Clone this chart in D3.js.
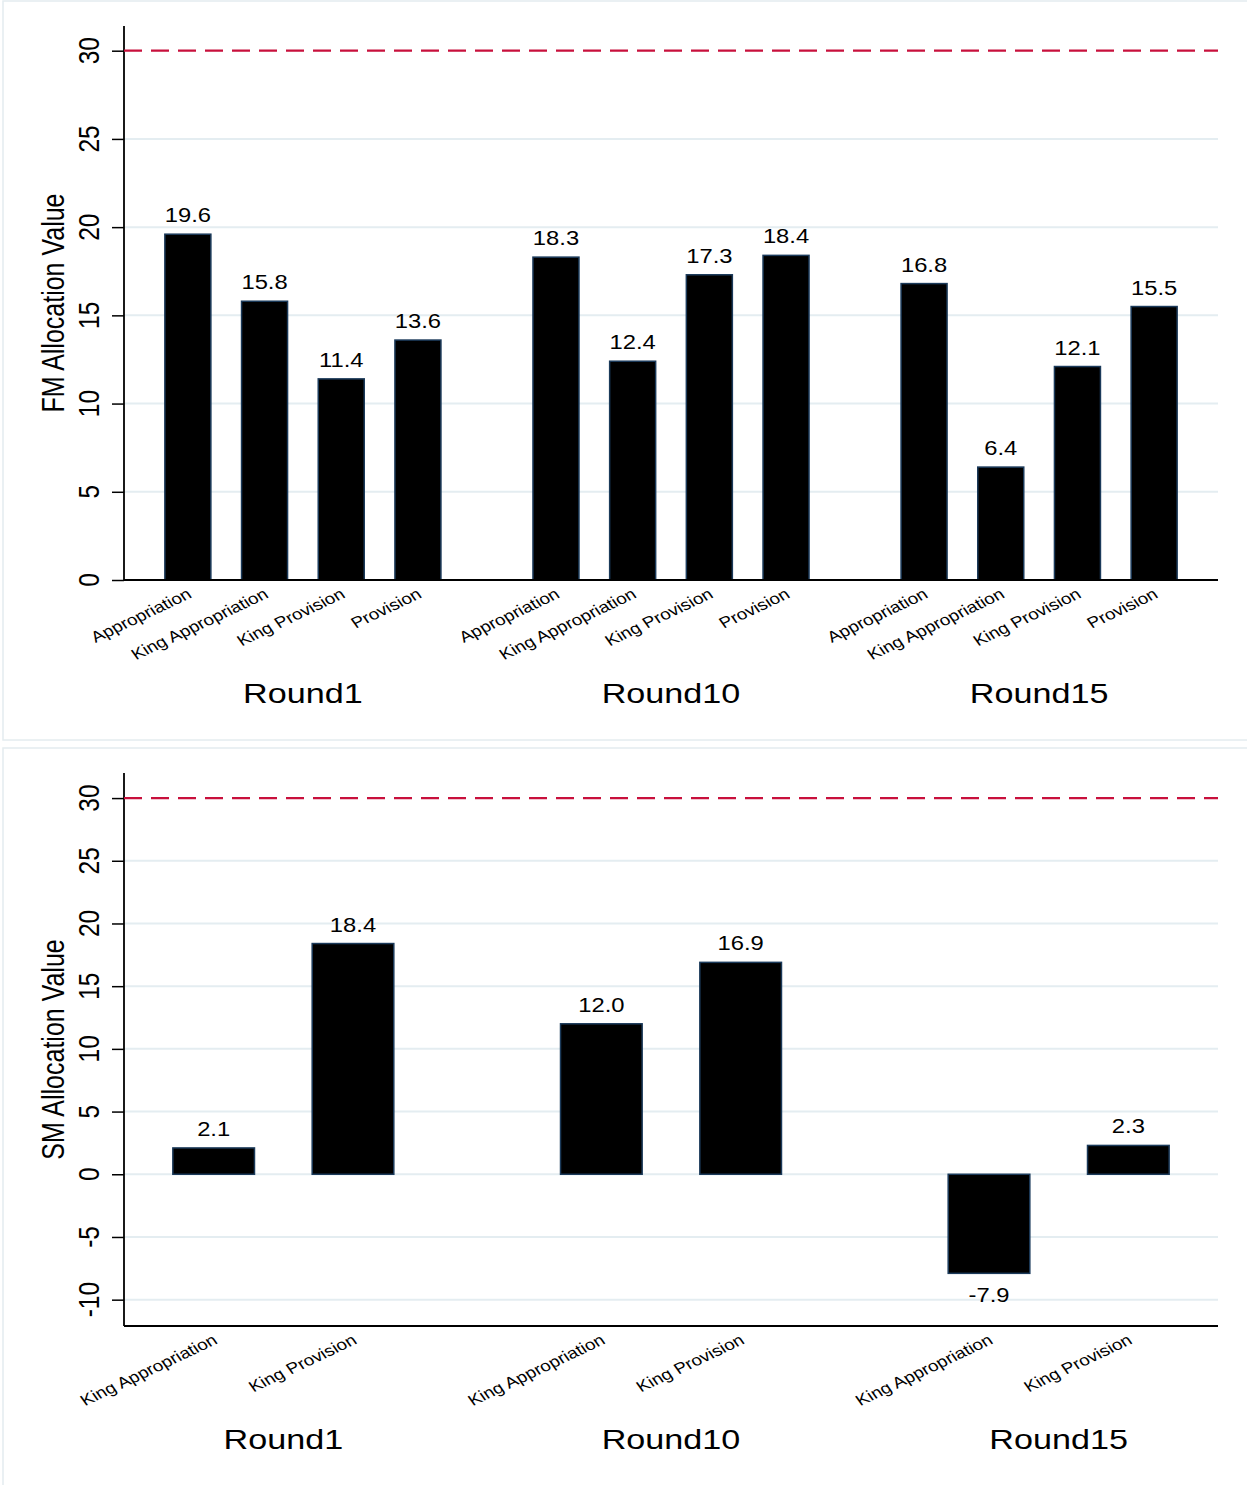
<!DOCTYPE html>
<html>
<head>
<meta charset="utf-8">
<script src="https://cdn.jsdelivr.net/npm/d3@7"></script>
<style>
  body { margin: 0; background: #fff; }
  text { font-family: "Liberation Sans", Arial, Helvetica, sans-serif; fill: #000; }
</style>
</head>
<body>
<div id="chart"></div>
<script>
const rounds = ["Round1", "Round10", "Round15"];

const fmCategories = ["Appropriation", "King Appropriation", "King Provision", "Provision"];
const fmRound1 = [19.6, 15.8, 11.4, 13.6];
const fmRound10 = [18.3, 12.4, 17.3, 18.4];
const fmRound15 = [16.8, 6.4, 12.1, 15.5];

const smCategories = ["King Appropriation", "King Provision"];
const smRound1 = [2.1, 18.4];
const smRound10 = [12.0, 16.9];
const smRound15 = [-7.9, 2.3];

const fmTicks = [0, 5, 10, 15, 20, 25, 30];
const smTicks = [-10, -5, 0, 5, 10, 15, 20, 25, 30];
const refLine = 30;

// the reference picture is stretched sideways, so text gets a small x-scale
const sx = 1.22;

// plain hyphen for negatives, like the original
const locale = d3.formatLocale({ decimal: ".", thousands: ",", grouping: [3], currency: ["", ""], minus: "-" });
const fmtTick = locale.format("d");
const fmtValue = locale.format(".1f");

const svg = d3.select("#chart").append("svg")
    .attr("width", 1247)
    .attr("height", 1485);

function stretchedText(g, x, y, angle, str) {
    return g.append("text")
        .attr("transform", `translate(${x},${y}) scale(${sx},1) rotate(${angle})`)
        .text(str);
}

function drawPanel(cfg) {
    const g = svg.append("g");

    // panel frame
    g.append("rect")
        .attr("x", cfg.frame[0]).attr("y", cfg.frame[1])
        .attr("width", cfg.frame[2]).attr("height", cfg.frame[3])
        .attr("fill", "none")
        .attr("stroke", "#e4ecef")
        .attr("stroke-width", 1.5);

    const y = d3.scaleLinear().domain(cfg.yDomain).range([cfg.bottom, cfg.top]);

    const x0 = d3.scaleBand()
        .domain(rounds)
        .range([cfg.left, cfg.right])
        .paddingInner(cfg.groupPadInner)
        .paddingOuter(cfg.groupPadOuter);

    const x1 = d3.scaleBand()
        .domain(cfg.categories)
        .range([0, x0.bandwidth()])
        .paddingInner(cfg.barPad)
        .paddingOuter(0);

    // gridlines
    g.append("g")
        .selectAll("line")
        .data(cfg.ticks.filter(t => t !== refLine))
        .join("line")
        .attr("x1", cfg.left).attr("x2", cfg.right)
        .attr("y1", d => y(d)).attr("y2", d => y(d))
        .attr("stroke", "#e4edf1")
        .attr("stroke-width", 2);

    // y axis
    const yAxis = g.append("g")
        .attr("transform", `translate(${cfg.left},0)`)
        .call(d3.axisLeft(y).tickValues(cfg.ticks).tickSize(12).tickFormat(""));
    yAxis.select(".domain").remove();
    yAxis.selectAll(".tick line").attr("stroke", "#000").attr("stroke-width", 1.5);

    g.append("line")
        .attr("x1", cfg.left).attr("x2", cfg.left)
        .attr("y1", cfg.top).attr("y2", cfg.bottom)
        .attr("stroke", "#000").attr("stroke-width", 1.8);

    cfg.ticks.forEach(t => {
        stretchedText(g, 99, y(t), -90, fmtTick(t))
            .attr("text-anchor", "middle")
            .style("font-size", "24.5px");
    });

    stretchedText(g, 64, (cfg.top + cfg.bottom) / 2, -90, cfg.yTitle)
        .attr("text-anchor", "middle")
        .style("font-size", "25px");

    // reference line
    g.append("line")
        .attr("x1", cfg.left).attr("x2", cfg.right)
        .attr("y1", y(refLine)).attr("y2", y(refLine))
        .attr("stroke", "#c8103c")
        .attr("stroke-width", 2.2)
        .attr("stroke-dasharray", "18,9");

    // bars
    const bars = [];
    rounds.forEach((r, i) => {
        cfg.values[i].forEach((v, j) => {
            bars.push({ round: r, cat: cfg.categories[j], value: v });
        });
    });

    g.append("g")
        .selectAll("rect")
        .data(bars)
        .join("rect")
        .attr("x", d => x0(d.round) + x1(d.cat))
        .attr("width", x1.bandwidth())
        .attr("y", d => y(Math.max(0, d.value)))
        .attr("height", d => Math.abs(y(d.value) - y(0)))
        .attr("fill", "#000")
        .attr("stroke", "#1b3a5a")
        .attr("stroke-width", 1.5);

    // value labels
    bars.forEach(d => {
        const cx = x0(d.round) + x1(d.cat) + x1.bandwidth() / 2;
        const ly = d.value >= 0 ? y(d.value) - 12 : y(d.value) + 29;
        stretchedText(g, cx, ly, 0, fmtValue(d.value))
            .attr("text-anchor", "middle")
            .style("font-size", "19.5px");
    });

    // x axis line
    g.append("line")
        .attr("x1", cfg.left).attr("x2", cfg.right)
        .attr("y1", cfg.bottom).attr("y2", cfg.bottom)
        .attr("stroke", "#000").attr("stroke-width", 1.8);

    // category labels
    bars.forEach(d => {
        const cx = x0(d.round) + x1(d.cat) + x1.bandwidth() / 2;
        stretchedText(g, cx + 5, cfg.bottom + 17, -30, d.cat)
            .attr("text-anchor", "end")
            .style("font-size", "15.5px");
    });

    // round labels
    rounds.forEach(r => {
        stretchedText(g, x0(r) + x0.bandwidth() / 2, cfg.bottom + 123, 0, r)
            .attr("text-anchor", "middle")
            .style("font-size", "28px");
    });
}

drawPanel({
    frame: [3, 1, 1250, 739],
    top: 26, bottom: 580, left: 124, right: 1218,
    yDomain: [0, 31.4],
    ticks: fmTicks,
    yTitle: "FM Allocation Value",
    categories: fmCategories,
    values: [fmRound1, fmRound10, fmRound15],
    groupPadInner: 0.25, groupPadOuter: 0.111,
    barPad: 0.4
});

drawPanel({
    frame: [3, 748, 1250, 745],
    top: 773, bottom: 1326, left: 124, right: 1218,
    yDomain: [-12.1, 32.0],
    ticks: smTicks,
    yTitle: "SM Allocation Value",
    categories: smCategories,
    values: [smRound1, smRound10, smRound15],
    groupPadInner: 0.43, groupPadOuter: 0.126,
    barPad: 0.414
});
</script>
</body>
</html>
